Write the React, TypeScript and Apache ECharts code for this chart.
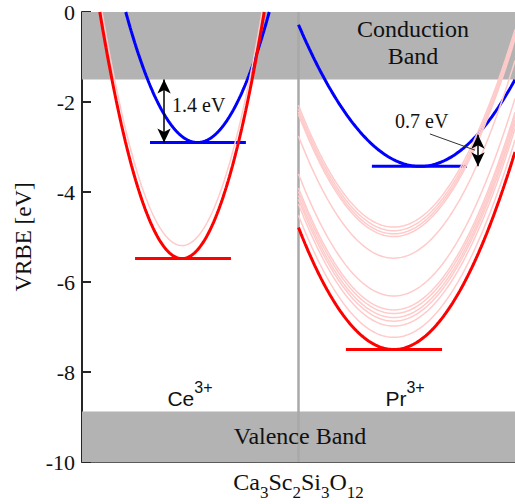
import React, { useEffect, useRef } from "react";
import * as echarts from "echarts";

const SERIF = '"Liberation Serif", "Times New Roman", serif';
const SANS = '"Liberation Sans", Arial, sans-serif';

// Band edges (VRBE, eV)
const conductionBandBottom = -1.5;
const valenceBandTop = -8.88;

// Ce3+: 4f ground multiplet (2F5/2, 2F7/2) and lowest 5d level
const ceGroundLevels = [-5.48, -5.19];
const ce5dLevel = -2.9;

// Pr3+: 4f2 multiplets (3H4 ... 3P2) and lowest 5d level
const prGroundLevels = [
  -7.5, -7.23, -6.98, -6.87, -6.79, -6.7, -6.62, -6.31, -5.47, -4.99, -4.93, -4.86, -4.78,
];
const pr5dLevel = -3.43;

// Configuration coordinate of each parabola minimum (Ce panel 0..1, Pr panel 1..2)
const ceGroundQ = 0.462;
const ce5dQ = 0.5335;
const prGroundQ = 1.44;
const pr5dQ = 1.561;

// Parabola stiffness (eV per unit Q squared)
const ceGroundK = 38;
const ce5dK = 26.4;
const prGroundK = 14;
const pr5dK = 10;

// Horizontal markers at the minima
const ceGroundSpan = [0.245, 0.688];
const ce5dSpan = [0.314, 0.757];
const prGroundSpan = [1.219, 1.663];
const pr5dSpan = [1.339, 1.778];

// Energy gaps marked with double arrows
const gapLabels = ["1.4 eV", "0.7 eV"];
const gapValues = [1.4, 0.7];
const gapArrowQ = [0.379, 1.829];

const cePanel = [0, 1];
const prPanel = [1, 2];

function parabola(q0: number, e0: number, k: number, panel: number[]) {
  const half = Math.sqrt(-e0 / k);
  const lo = Math.max(panel[0], q0 - half);
  const hi = Math.min(panel[1], q0 + half);
  const n = 160;
  const pts: number[][] = [];
  for (let i = 0; i <= n; i++) {
    const q = lo + ((hi - lo) * i) / n;
    pts.push([q, Math.min(0, e0 + k * (q - q0) * (q - q0))]);
  }
  return pts;
}

function curve(data: number[][], color: string, width: number, z: number) {
  return {
    type: "line",
    data,
    showSymbol: false,
    symbol: "none",
    silent: true,
    z,
    lineStyle: { color, width },
  };
}

export default function App() {
  const ref = useRef<HTMLDivElement>(null);

  useEffect(() => {
    if (!ref.current) return;
    const chart = echarts.init(ref.current, undefined, { renderer: "svg" });

    const RED = "#ff0000";
    const BLUE = "#0000ff";
    const PINK = "#ffcaca";
    const series: any[] = [];

    // grey bands
    series.push({
      type: "line",
      data: [],
      silent: true,
      z: 1,
      markArea: {
        silent: true,
        itemStyle: { color: "#b3b3b3" },
        data: [
          [{ coord: [0, 0] }, { coord: [2, conductionBandBottom] }],
          [{ coord: [0, valenceBandTop] }, { coord: [2, -10] }],
        ],
      },
    });

    // panel divider
    series.push(curve([[1, -10], [1, 0]], "#a9a9a9", 2.5, 2));

    // 5d parabolas and markers
    series.push(curve(parabola(ce5dQ, ce5dLevel, ce5dK, cePanel), BLUE, 3, 3));
    series.push(curve(parabola(pr5dQ, pr5dLevel, pr5dK, prPanel), BLUE, 3, 3));
    series.push(curve([[ce5dSpan[0], ce5dLevel], [ce5dSpan[1], ce5dLevel]], BLUE, 3, 3));
    series.push(curve([[pr5dSpan[0], pr5dLevel], [pr5dSpan[1], pr5dLevel]], BLUE, 3, 3));

    // excited 4f multiplets
    ceGroundLevels.slice(1).forEach((e) => {
      series.push(curve(parabola(ceGroundQ, e, ceGroundK, cePanel), PINK, 1.5, 4));
    });
    prGroundLevels.slice(1).forEach((e) => {
      series.push(curve(parabola(prGroundQ, e, prGroundK, prPanel), PINK, 1.5, 4));
    });

    // 4f ground states
    series.push(curve(parabola(ceGroundQ, ceGroundLevels[0], ceGroundK, cePanel), RED, 3, 5));
    series.push(curve(parabola(prGroundQ, prGroundLevels[0], prGroundK, prPanel), RED, 3, 5));
    series.push(
      curve([[ceGroundSpan[0], ceGroundLevels[0]], [ceGroundSpan[1], ceGroundLevels[0]]], RED, 3, 5)
    );
    series.push(
      curve([[prGroundSpan[0], prGroundLevels[0]], [prGroundSpan[1], prGroundLevels[0]]], RED, 3, 5)
    );

    // gap arrows
    const fiveD = [ce5dLevel, pr5dLevel];
    series.push({
      type: "line",
      data: [],
      silent: true,
      z: 6,
      markLine: {
        silent: true,
        animation: false,
        symbol: ["arrow", "arrow"],
        symbolSize: [10, 14],
        label: { show: false },
        lineStyle: { color: "#000", width: 1.5, type: "solid" },
        data: gapValues.map((g, i) => [
          { coord: [gapArrowQ[i], fiveD[i] + g] },
          { coord: [gapArrowQ[i], fiveD[i]] },
        ]),
      },
    });
    // leader line for the Pr label
    series.push({
      type: "line",
      data: [],
      silent: true,
      z: 6,
      markLine: {
        silent: true,
        animation: false,
        symbol: ["none", "none"],
        label: { show: false },
        lineStyle: { color: "#333", width: 1, type: "solid" },
        data: [[{ coord: [1.607, -2.71] }, { coord: [1.815, -3.07] }]],
      },
    });

    const textColor = "#111";
    chart.setOption({
      animation: false,
      grid: { left: 82, right: 0, top: 12, bottom: 42, outerBoundsMode: "none", containLabel: false },
      xAxis: {
        type: "value",
        min: 0,
        max: 2,
        axisLine: { show: true, onZero: false, lineStyle: { color: "#262626", width: 1.5 } },
        axisTick: { show: false },
        axisLabel: { show: false },
        splitLine: { show: false },
        name: "{b|Ca}{s|3}{b|Sc}{s|2}{b|Si}{s|3}{b|O}{s|12}",
        nameLocation: "middle",
        nameGap: 8,
        nameTextStyle: {
          rich: {
            b: { fontFamily: SERIF, fontSize: 24, lineHeight: 31, verticalAlign: "top", color: textColor },
            s: { fontFamily: SERIF, fontSize: 17, lineHeight: 17, verticalAlign: "bottom", color: textColor },
          },
        },
      },
      yAxis: {
        type: "value",
        min: -10,
        max: 0,
        interval: 2,
        name: "VRBE [eV]",
        nameLocation: "middle",
        nameGap: 44,
        nameRotate: 90,
        nameTextStyle: { fontFamily: SERIF, fontSize: 23, color: textColor },
        axisLine: { show: true, lineStyle: { color: "#262626", width: 2 } },
        axisTick: { show: true, inside: true, length: 9, lineStyle: { color: "#262626", width: 2 } },
        axisLabel: { fontFamily: SERIF, fontSize: 22, color: textColor, margin: 7 },
        splitLine: { show: false },
      },
      series,
      graphic: [
        {
          type: "text",
          x: 413,
          y: 42,
          z: 10,
          style: {
            text: "Conduction\nBand",
            fontFamily: SERIF,
            fontSize: 24,
            lineHeight: 27,
            fill: textColor,
            align: "center",
            verticalAlign: "middle",
          },
        },
        {
          type: "text",
          x: 300,
          y: 436,
          z: 10,
          style: {
            text: "Valence Band",
            fontFamily: SERIF,
            fontSize: 24,
            fill: textColor,
            align: "center",
            verticalAlign: "middle",
          },
        },
        {
          type: "text",
          x: 172,
          y: 105,
          z: 10,
          style: {
            text: gapLabels[0],
            fontFamily: SERIF,
            fontSize: 20,
            fill: textColor,
            align: "left",
            verticalAlign: "middle",
          },
        },
        {
          type: "text",
          x: 395,
          y: 121,
          z: 10,
          style: {
            text: gapLabels[1],
            fontFamily: SERIF,
            fontSize: 20,
            fill: textColor,
            align: "left",
            verticalAlign: "middle",
          },
        },
        ...[
          ["Ce", 190],
          ["Pr", 405],
        ].map(([ion, x]) => ({
          type: "text",
          x: x as number,
          y: 394,
          z: 10,
          style: {
            text: `{b|${ion}}{s|3+}`,
            align: "center",
            verticalAlign: "middle",
            rich: {
              b: { fontFamily: SANS, fontSize: 21, lineHeight: 29, verticalAlign: "bottom", fill: textColor },
              s: { fontFamily: SANS, fontSize: 16, lineHeight: 16, verticalAlign: "top", fill: textColor },
            },
          },
        })),
      ],
    });

    return () => chart.dispose();
  }, []);

  return (
    <div
      ref={ref}
      style={{ position: "absolute", left: 0, top: 0, width: 515, height: 504 }}
    />
  );
}
